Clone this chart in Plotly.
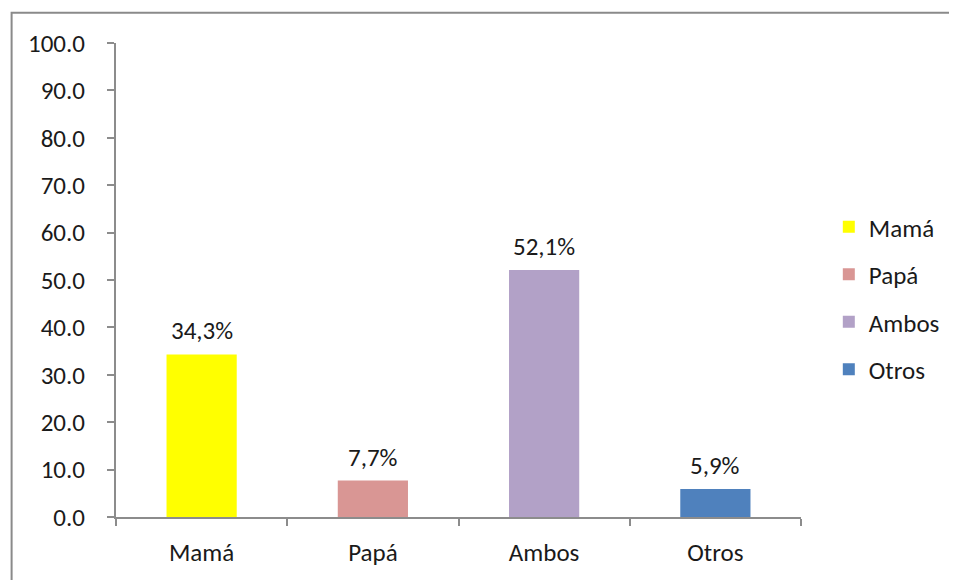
import plotly.graph_objects as go

categories = ["Mamá", "Papá", "Ambos", "Otros"]
values = [34.3, 7.7, 52.1, 5.9]
labels = ["34,3%", "7,7%", "52,1%", "5,9%"]
colors = ["#FFFF00", "#D99694", "#B2A1C7", "#4F81BD"]
y_ticks = [0, 10, 20, 30, 40, 50, 60, 70, 80, 90, 100]

FONT = "Calibri, Carlito, Lato, sans-serif"
FS = 25

fig = go.Figure()
for i, (cat, val, col) in enumerate(zip(categories, values, colors)):
    fig.add_trace(go.Bar(
        x=[cat], y=[val], name=cat,
        marker=dict(color=col, line=dict(width=0)),
        width=0.41, legendgroup=f"g{i}",
    ))

for cat, val, lab in zip(categories, values, labels):
    fig.add_annotation(x=cat, y=val, text=lab, showarrow=False,
                       yanchor="bottom", yshift=6,
                       font=dict(size=FS, color="#1a1a1a", family=FONT))

# outer chart border
fig.add_shape(type="rect", xref="paper", yref="paper",
              x0=-0.1524, x1=1.3, y0=-0.3, y1=1.064,
              line=dict(color="#8a8a8a", width=2), layer="below")

# page body has an 8px margin, so the figure is 8px smaller than the window
fig.update_layout(
    width=949, height=572,
    margin=dict(l=108, r=152, t=35, b=59),
    paper_bgcolor="white", plot_bgcolor="white",
    barmode="overlay",
    font=dict(family=FONT, size=FS, color="#1a1a1a"),
    legend=dict(x=1.0406, xanchor="left", y=0.462, yanchor="middle",
                font=dict(size=FS), tracegroupgap=12,
                itemwidth=30),
    showlegend=True,
)
fig.update_xaxes(
    type="category", showline=True, linecolor="#8c8c8c", linewidth=2,
    ticks="outside", tickson="boundaries", ticklen=7, tickcolor="#8c8c8c",
    tickwidth=2, ticklabelstandoff=12, showgrid=False,
    range=[-0.5, 3.5],
)
fig.update_yaxes(
    range=[0, 100], tickvals=y_ticks, tickformat=".1f",
    showline=True, linecolor="#8c8c8c", linewidth=2,
    ticks="outside", ticklen=7, tickcolor="#8c8c8c", tickwidth=2,
    ticklabelstandoff=17, showgrid=False, zeroline=False,
)

fig.write_html("out.html")
